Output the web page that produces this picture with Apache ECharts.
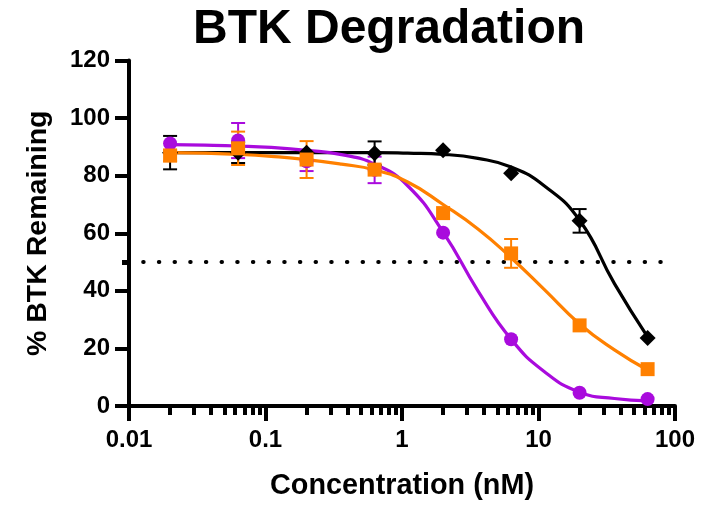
<!DOCTYPE html>
<html>
<head>
<meta charset="utf-8">
<script src="https://cdn.jsdelivr.net/npm/echarts@6/dist/echarts.min.js"></script>
<style>
html,body{margin:0;padding:0;background:#fff;}
#chart{width:715px;height:507px;}
</style>
</head>
<body>
<div id="chart"></div>
<script>
// ---- data ----
const concentrations = [0.02, 0.063, 0.2, 0.63, 2, 6.3, 20, 63];
const blackMean  = [88, 88, 88, 87.8, 88.8, 80.8, 64.3, 23.6];
const blackSD    = [5.8, 3.6, 0, 4.1, 0, 0, 4.1, 0];
const orangeMean = [87, 89.5, 85.6, 82.1, 67, 53, 28, 12.8];
const orangeSD   = [2, 5.8, 6.4, 0, 0, 5, 0, 0];
const purpleMean = [91.2, 92.2, 85, 82, 60.2, 23.2, 4.6, 2.4];
const purpleSD   = [0, 6.1, 3.4, 4.6, 0, 0, 0, 0];

// fitted curves (quarter-decade steps)
const curveX       = [0.02, 0.036, 0.063, 0.11, 0.2, 0.36, 0.63, 1.1, 2, 3.6, 6.3, 11, 20, 36, 63];
const blackCurveY  = [88, 88, 88, 88, 88, 88, 88, 87.8, 87.4, 86, 83, 76.5, 64.5, 42.5, 24];
const orangeCurveY = [88, 87.8, 87.4, 86.7, 85.6, 84, 82, 77.8, 70, 61.5, 51.5, 40.5, 28.5, 19.5, 12.5];
const purpleCurveY = [90.8, 90.6, 90.3, 89.8, 88.8, 87.3, 84, 76.5, 60.4, 40, 23.2, 12, 4.8, 2.6, 1.8];

const refLineX = [0.0127, 80.4];
const refLineY = [50, 50];

const xMajorTicks = [0.01, 0.1, 1, 10, 100];
const yLabels = [0, 20, 40, 60, 80, 100, 120];

// ---- helpers ----
const xMinorTicks = [];
for (let d = 0.01; d < 100; d *= 10) {
  for (let m = 2; m <= 9; m++) xMinorTicks.push(+(d * m).toPrecision(3));
}
const zip = (xs, ys) => xs.map((x, i) => [x, ys[i]]);
const errData = (means, sds) => concentrations
  .map((c, i) => [c, means[i] - sds[i], means[i] + sds[i], sds[i]])
  .filter(d => d[3] > 0);

const BLACK = '#000000', ORANGE = '#FF8000', PURPLE = '#A90BDD';
const FONT = 'Liberation Sans, Arial, sans-serif';

function errSeries(name, means, sds, color, z) {
  return {
    name: name, type: 'custom', z: z,
    xAxisIndex: 0, yAxisIndex: 0,
    data: errData(means, sds),
    renderItem: function (params, api) {
      const x = api.value(0);
      const top = api.coord([x, api.value(2)]);
      const bot = api.coord([x, api.value(1)]);
      const hw = 7;
      const st = { stroke: color, lineWidth: 2 };
      return {
        type: 'group',
        children: [
          { type: 'line', shape: { x1: top[0], y1: top[1], x2: bot[0], y2: bot[1] }, style: st },
          { type: 'line', shape: { x1: top[0] - hw, y1: top[1], x2: top[0] + hw, y2: top[1] }, style: st },
          { type: 'line', shape: { x1: bot[0] - hw, y1: bot[1], x2: bot[0] + hw, y2: bot[1] }, style: st }
        ]
      };
    },
    silent: true
  };
}
function curveSeries(xs, ys, color, z) {
  return {
    type: 'line', data: zip(xs, ys), smooth: 0.5,
    showSymbol: false, symbol: 'none', z: z,
    lineStyle: { color: color, width: 3.2 }, silent: true
  };
}
function markerSeries(means, symbol, size, color, z) {
  return {
    type: 'scatter', data: zip(concentrations, means), symbol: symbol,
    symbolSize: size, z: z, itemStyle: { color: color, opacity: 1 }, silent: true
  };
}

const chart = echarts.init(document.getElementById('chart'), null, { renderer: 'canvas' });
chart.setOption({
  animation: false,
  backgroundColor: '#fff',
  title: {
    text: 'BTK Degradation', left: 188, top: 1,
    textStyle: { fontFamily: FONT, fontSize: 48, fontWeight: 'bold', color: '#000' }
  },
  grid: { left: 129, top: 60.5, width: 546, height: 345.5, containLabel: false },
  xAxis: [{
    type: 'log', logBase: 10, min: 0.01, max: 100, position: 'bottom',
    axisLine: { show: true, onZero: false, lineStyle: { color: '#000', width: 4 } },
    axisTick: { show: true, inside: false, length: 15, customValues: xMajorTicks,
      lineStyle: { color: '#000', width: 4 } },
    minorTick: { show: false },
    axisLabel: { show: true, customValues: xMajorTicks, margin: 22, color: '#000',
      fontFamily: FONT, fontSize: 24, fontWeight: 'bold',
      formatter: v => String(+v.toPrecision(3)) },
    splitLine: { show: false },
    name: 'Concentration (nM)', nameLocation: 'middle', nameGap: 66,
    nameTextStyle: { fontFamily: FONT, fontSize: 28.8, fontWeight: 'bold', color: '#000' }
  }, {
    type: 'log', logBase: 10, min: 0.01, max: 100, position: 'bottom', offset: 0,
    axisLine: { show: false, onZero: false },
    axisTick: { show: true, inside: false, length: 9, customValues: xMinorTicks,
      lineStyle: { color: '#000', width: 4 } },
    axisLabel: { show: false },
    splitLine: { show: false }
  }],
  yAxis: [{
    type: 'value', min: 0, max: 120, interval: 20, position: 'left',
    axisLine: { show: true, onZero: false, lineStyle: { color: '#000', width: 4 } },
    axisTick: { show: true, inside: false, length: 14, customValues: yLabels,
      lineStyle: { color: '#000', width: 4 } },
    axisLabel: { show: true, customValues: yLabels, margin: 19, color: '#000',
      fontFamily: FONT, fontSize: 24, fontWeight: 'bold' },
    splitLine: { show: false },
    name: '% BTK Remaining', nameLocation: 'middle', nameGap: 76, nameRotate: 90,
    nameTextStyle: { fontFamily: FONT, fontSize: 28.5, fontWeight: 'bold', color: '#000' }
  }, {
    type: 'value', min: 0, max: 120, interval: 10, position: 'left', offset: 0,
    axisLine: { show: false, onZero: false },
    axisTick: { show: true, inside: false, length: 7, customValues: [50],
      lineStyle: { color: '#000', width: 5 } },
    axisLabel: { show: false },
    splitLine: { show: false }
  }],
  series: [
    {
      type: 'line', data: zip(refLineX, refLineY), showSymbol: false, symbol: 'none', z: 1,
      lineStyle: { color: '#000', width: 4, type: [0.5, 15.17], cap: 'round' }, silent: true
    },
    curveSeries(curveX, blackCurveY, BLACK, 2),
    curveSeries(curveX, purpleCurveY, PURPLE, 2),
    curveSeries(curveX, orangeCurveY, ORANGE, 2),
    errSeries('purpleErr', purpleMean, purpleSD, PURPLE, 3),
    errSeries('blackErr', blackMean, blackSD, BLACK, 3),
    errSeries('orangeErr', orangeMean, orangeSD, ORANGE, 3),
    markerSeries(blackMean, 'diamond', 16, BLACK, 4),
    markerSeries(purpleMean, 'circle', 14, PURPLE, 5),
    markerSeries(orangeMean, 'rect', 14, ORANGE, 6)
  ]
});
</script>
</body>
</html>
